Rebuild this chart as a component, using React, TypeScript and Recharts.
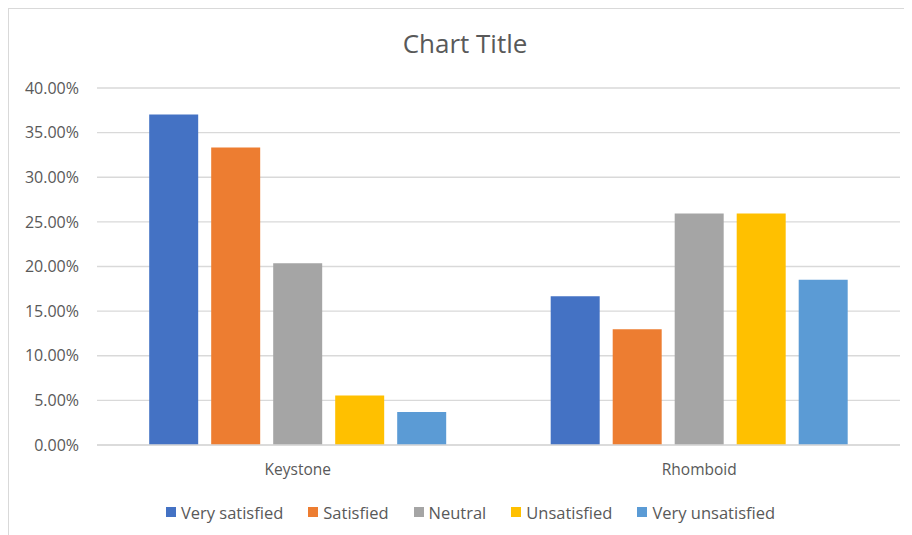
import React from "react";
import { BarChart, Bar, XAxis, YAxis, CartesianGrid, Legend } from "recharts";

const categories = ["Keystone", "Rhomboid"];
const seriesNames = ["Very satisfied", "Satisfied", "Neutral", "Unsatisfied", "Very unsatisfied"];
const seriesColors = ["#4472C4", "#ED7D31", "#A5A5A5", "#FFC000", "#5B9BD5"];
const keystoneValues = [0.3704, 0.3333, 0.2037, 0.0556, 0.037];
const rhomboidValues = [0.1667, 0.1296, 0.2593, 0.2593, 0.1852];
const yTicks = [0, 0.05, 0.1, 0.15, 0.2, 0.25, 0.3, 0.35, 0.4];

const valuesByCategory = [keystoneValues, rhomboidValues];
const data = categories.map((c, i) => {
  const row: Record<string, any> = { name: c };
  seriesNames.forEach((s, j) => (row[s] = valuesByCategory[i][j]));
  return row;
});

const FONT = "'Open Sans', 'Noto Sans', sans-serif";
const TXT = "#595959";

const LegendContent = () => (
  <div
    style={{
      display: "flex",
      justifyContent: "center",
      alignItems: "center",
      height: 24,
      fontFamily: FONT,
      fontSize: 16.5,
      color: TXT,
      paddingLeft: 20,
    }}
  >
    {seriesNames.map((s, i) => (
      <div key={s} style={{ display: "flex", alignItems: "center", marginRight: i < seriesNames.length - 1 ? 25 : 0 }}>
        <span style={{ width: 10, height: 10, background: seriesColors[i], display: "inline-block", marginRight: 5 }} />
        <span>{s}</span>
      </div>
    ))}
  </div>
);

export default function App() {
  return (
    <div
      style={{
        position: "relative",
        width: 904,
        height: 527,
        borderTop: "1px solid #d9d9d9",
        borderLeft: "1px solid #d9d9d9",
        background: "#fff",
        boxSizing: "border-box",
      }}
    >
      <div
        style={{
          position: "absolute",
          top: 16,
          left: 0,
          width: 912,
          textAlign: "center",
          fontFamily: FONT,
          fontSize: 26,
          color: TXT,
        }}
      >
        Chart Title
      </div>
      <BarChart
        width={903}
        height={526}
        data={data}
        margin={{ top: 79, right: 12, left: 0, bottom: 24 }}
        barGap={13}
        barCategoryGap="13%"
      >
        <CartesianGrid vertical={false} stroke="#d9d9d9" strokeWidth={1.3} />
        <XAxis
          dataKey="name"
          tickLine={false}
          tickSize={0}
          tickMargin={19}
          axisLine={{ stroke: "#d9d9d9", strokeWidth: 1.3 }}
          tick={{ fill: TXT, fontSize: 15.5, fontFamily: FONT }}
          height={42}
        />
        <YAxis
          width={88}
          domain={[0, 0.4]}
          ticks={yTicks}
          tickFormatter={(v: number) => (v * 100).toFixed(2) + "%"}
          tickLine={false}
          tickSize={0}
          tickMargin={18}
          axisLine={false}
          tick={{ fill: TXT, fontSize: 16, fontFamily: FONT }}
        />
        <Legend
          verticalAlign="bottom"
          content={<LegendContent />}
          wrapperStyle={{ bottom: 11, left: 0, width: 903 }}
        />
        {seriesNames.map((s, i) => (
          <Bar key={s} dataKey={s} fill={seriesColors[i]} isAnimationActive={false} />
        ))}
      </BarChart>
    </div>
  );
}
